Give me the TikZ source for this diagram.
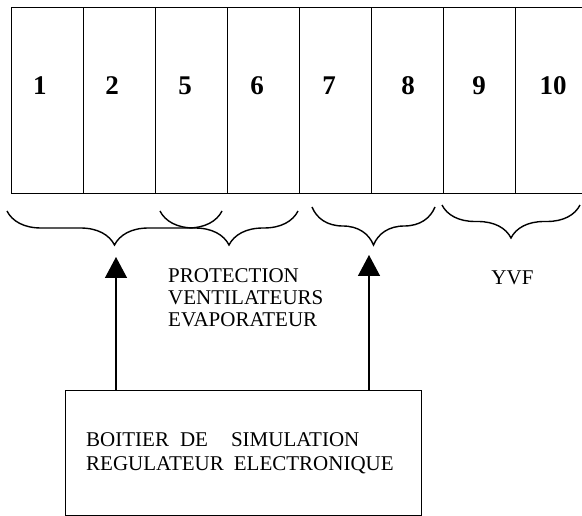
\documentclass[tikz,border=0pt]{standalone}
\usepackage{fontspec}
\setmainfont{Liberation Serif}
\usetikzlibrary{decorations.pathreplacing,arrows.meta}
\begin{document}
\begin{tikzpicture}[x=1pt,y=-1pt,
  cell/.style={draw,line width=1.3pt,minimum width=72pt,minimum height=186pt,inner sep=0pt,anchor=north west},
  num/.style={font=\fontsize{27}{28}\selectfont\bfseries,inner sep=0pt,anchor=base},
  brc/.style={draw,line width=1.4pt,decoration={brace,mirror,amplitude=#1},decorate},
  lbl/.style={font=\fontsize{21}{22}\selectfont,inner sep=0pt},
  arr/.style={line width=1.4pt,-{Triangle[length=21pt,width=22pt]}}]
\useasboundingbox (0,0) rectangle (582,516);
\node[cell] (c1) at (11,7) {};
\node[cell] (c2) at (83,7) {};
\node[cell] (c5) at (155,7) {};
\node[cell] (c6) at (227,7) {};
\node[cell] (c7) at (299,7) {};
\node[cell] (c8) at (371,7) {};
\node[cell] (c9) at (443,7) {};
\node[cell] (c10) at (515,7) {};
\node[num] (n1) at (40,95) {1};
\node[num] (n2) at (112,95) {2};
\node[num] (n5) at (185,95) {5};
\node[num] (n6) at (257,95) {6};
\node[num] (n7) at (329,95) {7};
\node[num] (n8) at (408,95) {8};
\node[num] (n9) at (479,95) {9};
\node[num] (n10) at (553,95) {10};
% brace end points
\coordinate (b1a) at (7,211);   \coordinate (b1b) at (222,211);
\coordinate (b2a) at (160,211); \coordinate (b2b) at (298,211);
\coordinate (b3a) at (312,207); \coordinate (b3b) at (435,207);
\coordinate (b4a) at (442,205); \coordinate (b4b) at (580,205);
\draw[brc=34pt] (b1a) -- (b1b);
\draw[brc=34pt] (b2a) -- (b2b);
\draw[brc=38pt] (b3a) -- (b3b);
\draw[brc=33pt] (b4a) -- (b4b);
% box
\node[draw,line width=1.3pt,minimum width=356pt,minimum height=125pt,anchor=north west,inner sep=0pt] (box) at (65,390) {};
\node[lbl,font=\fontsize{21}{24}\selectfont,align=left,anchor=north west] (bt) at (86,432.5) {BOITIER\hspace{11pt}DE\hspace{23pt}SIMULATION\\REGULATEUR\hspace{10pt}ELECTRONIQUE};
% arrows
\coordinate (a1) at (116,257);
\coordinate (a2) at (369,255);
\draw[arr] (box.north -| a1) -- (a1);
\draw[arr] (box.north -| a2) -- (a2);
% labels
\node[lbl,align=left,anchor=north west] (prot) at (168,268) {PROTECTION\\VENTILATEURS\\EVAPORATEUR};
\node[lbl] (yvf) at (512.5,277.5) {YVF};
\end{tikzpicture}
\end{document}
